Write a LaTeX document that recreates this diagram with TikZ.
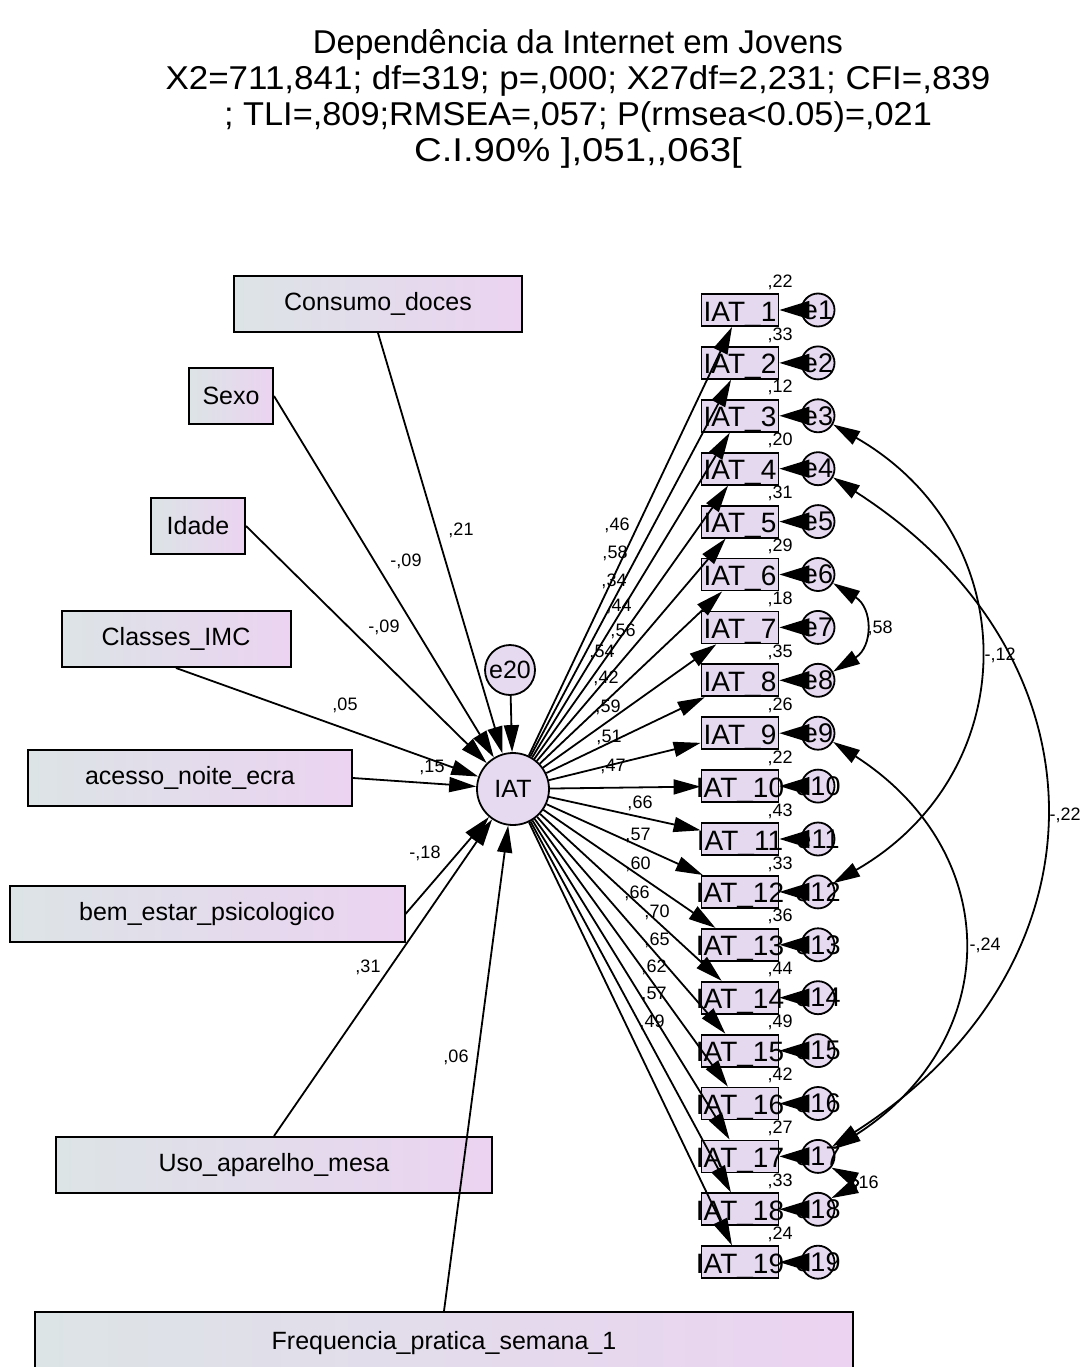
\documentclass[tikz,border=0pt]{standalone}
\usepackage{fontspec}
\usepackage{graphicx}
\setmainfont{Liberation Sans}
\usetikzlibrary{arrows.meta}
\definecolor{boxL}{HTML}{DCE4E6}
\definecolor{boxR}{HTML}{EBD3F1}
\definecolor{ifill}{HTML}{E4D9EE}
\definecolor{cfill}{HTML}{E6DAF0}
\begin{document}
\begin{tikzpicture}[x=1pt,y=-1pt,
  obs/.style={draw=black, line width=2pt, left color=boxL, right color=boxR, minimum height=56pt, inner sep=0pt, font=\fontsize{25}{28}\selectfont},
  ibox/.style={draw=black, line width=1.8pt, fill=ifill, minimum width=77pt, minimum height=32pt, inner sep=0pt, font=\fontsize{28}{30}\selectfont},
  err/.style={circle, draw=black, line width=1.8pt, fill=cfill, minimum size=33pt, inner sep=0pt, font=\fontsize{27}{28}\selectfont},
  lat/.style={circle, draw=black, line width=1.8pt, fill=cfill, inner sep=0pt, font=\fontsize{25}{26}\selectfont},
  lbl/.style={inner sep=0pt, font=\fontsize{18}{20}\selectfont},
  pth/.style={-{Triangle[length=27pt,width=15pt]}, line width=1.8pt},
  epth/.style={-{Triangle[length=30pt,width=18pt]}, line width=1.8pt},
  cov/.style={{Triangle[length=27pt,width=15pt]}-{Triangle[length=27pt,width=15pt]}, line width=1.8pt}
]
\useasboundingbox (0,0) rectangle (1089,1367);
\fill[white] (0,0) rectangle (1089,1367);

% title
\node[align=center, font=\fontsize{33}{36}\selectfont, inner sep=0pt] (title) at (578,99)
 {Dependência da Internet em Jovens\\\scalebox{1.06}[1]{X2=711,841; df=319; p=,000; X27df=2,231; CFI=,839}\\\scalebox{1.04}[1]{; TLI=,809;RMSEA=,057; P(rmsea<0.05)=,021}\\\scalebox{1.16}[1]{C.I.90\% ],051,{},063[}};

% exogenous boxes
\node[obs, minimum width=288pt] (cd) at (378,304) {Consumo\_doces};
\node[obs, minimum width=84pt] (sx) at (231,396) {Sexo};
\node[obs, minimum width=94pt] (id) at (198,526) {Idade};
\node[obs, minimum width=229pt] (ci) at (176,639) {Classes\_IMC};
\node[obs, minimum width=324pt] (an) at (190,778) {acesso\_noite\_ecra};
\node[obs, minimum width=395pt] (be) at (207,914) {bem\_estar\_psicologico};
\node[obs, minimum width=436pt] (ua) at (274,1165) {Uso\_aparelho\_mesa};
\node[obs, minimum width=818pt, minimum height=64pt] (fp) at (444,1344) {\raisebox{8pt}{Frequencia\_pratica\_semana\_1}};

% latent
\node[lat, minimum size=72pt] (iat) at (513,789) {IAT};
\node[lat, minimum size=50pt] (e20) at (510,670) {e20};

% items and errors
\foreach \k in {1,...,19} {
  \node[ibox] (b\k) at (740,{310+(\k-1)*52.9}) {\makebox[0pt]{\smash{\raisebox{-11pt}{IAT\_\k}}}};
  \node[err] (e\k) at (818,{310+(\k-1)*52.9}) {\makebox[0pt]{e\k}};
}

% structural paths
\draw[pth] (cd.south) -- (iat);
\draw[pth] (sx.east) -- (iat);
\draw[pth] (id.east) -- (iat);
\draw[pth] (ci.south) -- (iat);
\draw[pth] (an.east) -- (iat);
\draw[pth] (be.east) -- (iat);
\draw[pth] (ua.north) -- (iat);
\draw[pth] (fp.north) -- (iat);
\draw[pth] (e20) -- (iat);

\node[lbl] (l1) at (461,530) {,21};
\node[lbl] (l2) at (406,561) {-,09};
\node[lbl] (l3) at (384,627) {-,09};
\node[lbl] (l4) at (345,705) {,05};
\node[lbl] (l5) at (432,767) {,15};
\node[lbl] (l6) at (425,853) {-,18};
\node[lbl] (l7) at (368,967) {,31};
\node[lbl] (l8) at (456,1057) {,06};

% measurement paths
\foreach \k in {1,...,19} {
  \draw[pth] (iat) -- (b\k);
  \draw[epth] (e\k) -- (b\k);
}

% squared multiple correlations
\foreach \k/\v in {1/22,2/33,3/12,4/20,5/31,6/29,7/18,8/35,9/26,10/22,11/43,12/33,13/36,14/44,15/49,16/42,17/27,18/33,19/24} {
  \node[lbl] (r\k) at (780,{310+(\k-1)*52.9-28}) {,\v};
}

% loadings
\foreach \k/\v/\x/\y in {1/46/617/525,2/58/615/553,3/34/614/581,4/44/619/606,5/56/623/631,6/54/602/652,7/42/606/678,8/59/608/707,9/51/609/737,10/47/613/766,11/66/640/803,12/57/638/835,13/60/638/864,14/66/637/893,15/70/657/912,16/65/657/940,17/62/654/967,18/57/654/994,19/49/652/1022} {
  \node[lbl] (w\k) at (\x,\y) {,\v};
}

% covariances
\draw[cov] (e6.-30) .. controls +(40,25) and +(40,-25) .. (e8.30);
\draw[cov] (e3.-30) .. controls +(193,111) and +(193,-111) .. (e12.30);
\draw[cov] (e4.-30) .. controls +(281,180) and +(281,-180) .. (e17.35);
\draw[cov] (e9.-30) .. controls +(171,110) and +(171,-110) .. (e17.25);
\draw[cov] (e17.-40) .. controls +(28,14) and +(28,-14) .. (e18.40);

\node[lbl] (c1) at (880,628) {,58};
\node[lbl] (c2) at (1000,655) {-,12};
\node[lbl] (c3) at (1065,815) {-,22};
\node[lbl] (c4) at (985,945) {-,24};
\node[lbl] (c5) at (866,1183) {,16};
\end{tikzpicture}
\end{document}
